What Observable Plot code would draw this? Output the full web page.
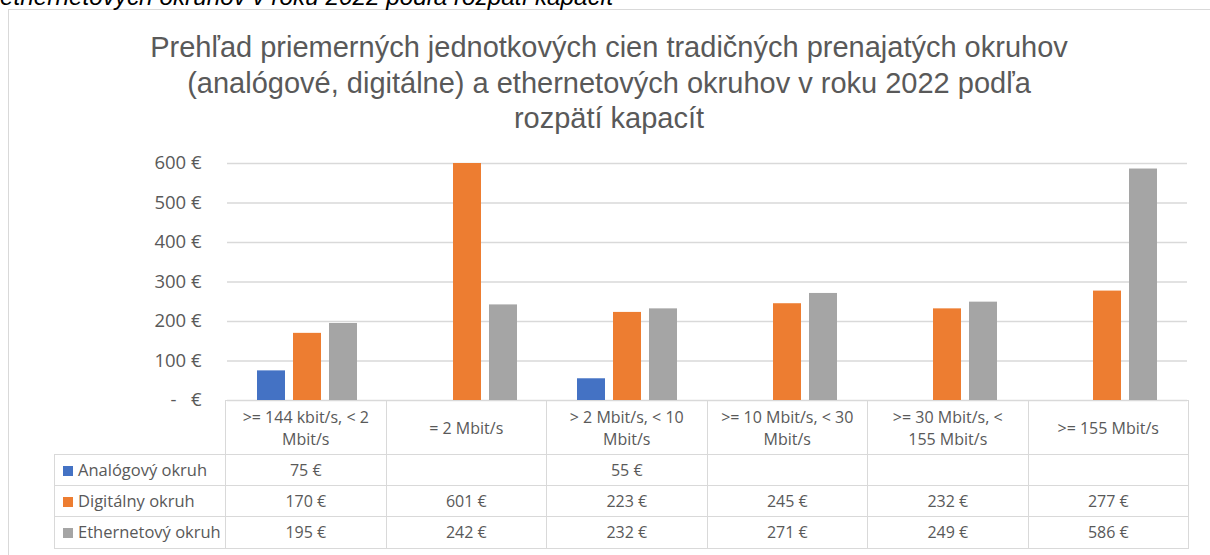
<!DOCTYPE html>
<html>
<head>
<meta charset="utf-8">
<script src="https://cdn.jsdelivr.net/npm/d3@7"></script>
<script src="https://cdn.jsdelivr.net/npm/@observablehq/plot@0.6"></script>
<style>
html, body { margin: 0; padding: 0; background: #fff; }
body { width: 1210px; height: 555px; overflow: hidden; position: relative; font-family: "Open Sans", sans-serif; }
#frame { position: absolute; left: 8px; top: 9px; width: 1300px; height: 700px; border-top: 1.3px solid #d9d9d9; border-left: 1.3px solid #d9d9d9; box-sizing: border-box; }
#caption { position: absolute; left: 0; top: -17px; font: italic 24.3px "Liberation Sans", Arial, sans-serif; line-height: 28px; color: #000; white-space: nowrap; }
#title { position: absolute; left: 8px; width: 1202px; top: 30px; text-align: center; font: 29px "Liberation Sans", Arial, sans-serif; line-height: 35.5px; color: #595959; }
#chart { position: absolute; left: 0; top: 0; }
#table { position: absolute; left: 54px; top: 400px; border-collapse: collapse; table-layout: fixed; width: 1134px; font-size: 16px; color: #595959; }
#table td { border: 1.5px solid #d9d9d9; padding: 0; text-align: center; vertical-align: middle; white-space: nowrap; overflow: hidden; }
#table tr.head td { height: 53px; line-height: 22px; }
#table tr.body td { height: 30.2px; line-height: 20px; }
#table td.corner { border-top: none; border-left: none; }
#table td.legend { text-align: left; padding-left: 8px; font-size: 16.5px; }
.sw { display: inline-block; width: 10px; height: 10px; margin-right: 5px; position: relative; top: 0px; }
</style>
</head>
<body>
<div id="frame"></div>
<div id="caption"></div>
<div id="title"></div>
<div id="chart"></div>
<table id="table"></table>
<script>
// ---- data ----
const captionText = "ethernetových okruhov v roku 2022 podľa rozpätí kapacít";
const titleLines = [
  "Prehľad priemerných jednotkových cien tradičných prenajatých okruhov",
  "(analógové, digitálne) a ethernetových okruhov v roku 2022 podľa",
  "rozpätí kapacít"
];
const categories = [
  ">= 144 kbit/s, < 2 Mbit/s",
  "= 2 Mbit/s",
  "> 2 Mbit/s, < 10 Mbit/s",
  ">= 10 Mbit/s, < 30 Mbit/s",
  ">= 30 Mbit/s, < 155 Mbit/s",
  ">= 155 Mbit/s"
];
const headerLines = [
  [">= 144 kbit/s, < 2", "Mbit/s"],
  ["= 2 Mbit/s"],
  ["> 2 Mbit/s, < 10", "Mbit/s"],
  [">= 10 Mbit/s, < 30", "Mbit/s"],
  [">= 30 Mbit/s, <", "155 Mbit/s"],
  [">= 155 Mbit/s"]
];
const seriesNames = ["Analógový okruh", "Digitálny okruh", "Ethernetový okruh"];
const analog   = [75, null, 55, null, null, null];
const digital  = [170, 601, 223, 245, 232, 277];
const ethernet = [195, 242, 232, 271, 249, 586];
const seriesColors = ["#4472C4", "#ED7D31", "#A5A5A5"];
const yTicks = [0, 100, 200, 300, 400, 500, 600];

// ---- text ----
document.getElementById("caption").textContent = captionText;
document.getElementById("title").innerHTML = titleLines.map(s => s.replace(/&/g, "&amp;").replace(/</g, "&lt;")).join("<br>");

// ---- chart ----
const seriesValues = [analog, digital, ethernet];
const rows = [];
categories.forEach((c, i) => {
  seriesNames.forEach((s, j) => {
    const v = seriesValues[j][i];
    if (v != null) rows.push({category: c, series: s, value: v});
  });
});

const euro = d => d === 0 ? "-\u00a0\u00a0\u00a0€" : d + " €";

const chart = Plot.plot({
  width: 1210,
  height: 410,
  marginTop: 163,
  marginBottom: 10,
  marginLeft: 225,
  marginRight: 22,
  style: {fontFamily: '"Open Sans", sans-serif', fontSize: "18.5px", color: "#595959", background: "transparent", overflow: "visible"},
  facet: {data: rows, x: "category"},
  fx: {domain: categories, padding: 0, axis: null, label: null},
  x: {domain: seriesNames, paddingInner: 0.222, paddingOuter: 0.833, axis: null},
  y: {domain: [0, 600], clamp: true, ticks: yTicks, tickSize: 0, tickPadding: 26, tickFormat: euro, label: null},
  color: {domain: seriesNames, range: seriesColors},
  marks: [
    Plot.ruleY(yTicks, {stroke: "#d9d9d9", strokeWidth: 1.4}),
    Plot.barY(rows, {x: "series", y: "value", fill: "series"})
  ]
});
document.getElementById("chart").appendChild(chart);

// ---- data table ----
const fmt = v => v == null ? "" : v + " €";
const table = document.getElementById("table");
const colgroup = document.createElement("colgroup");
[171, ...categories.map(() => 160.5)].forEach(w => {
  const col = document.createElement("col");
  col.style.width = w + "px";
  colgroup.appendChild(col);
});
table.appendChild(colgroup);

const head = document.createElement("tr");
head.className = "head";
const corner = document.createElement("td");
corner.className = "corner";
head.appendChild(corner);
headerLines.forEach(lines => {
  const td = document.createElement("td");
  lines.forEach((l, k) => {
    if (k) td.appendChild(document.createElement("br"));
    td.appendChild(document.createTextNode(l));
  });
  head.appendChild(td);
});
table.appendChild(head);

seriesNames.forEach((s, j) => {
  const tr = document.createElement("tr");
  tr.className = "body";
  const lg = document.createElement("td");
  lg.className = "legend";
  const sw = document.createElement("span");
  sw.className = "sw";
  sw.style.background = seriesColors[j];
  lg.appendChild(sw);
  lg.appendChild(document.createTextNode(s));
  tr.appendChild(lg);
  seriesValues[j].forEach(v => {
    const td = document.createElement("td");
    td.textContent = fmt(v);
    tr.appendChild(td);
  });
  table.appendChild(tr);
});
</script>
</body>
</html>
